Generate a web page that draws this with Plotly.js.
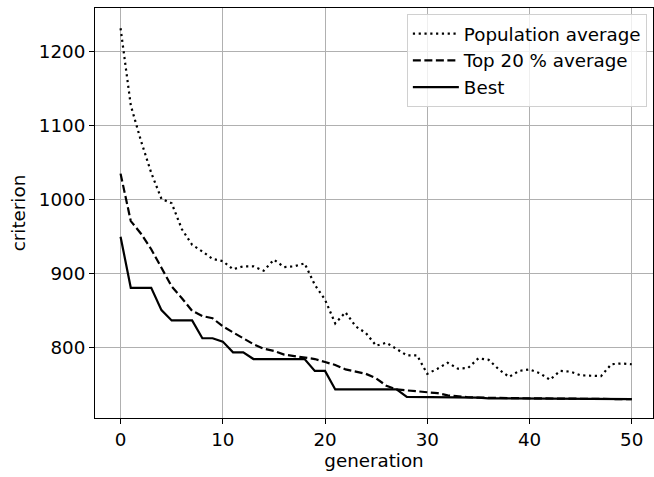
<!DOCTYPE html>
<html>
<head>
<meta charset="utf-8">
<script src="https://cdn.plot.ly/plotly-3.0.1.min.js"></script>
<style>html,body{margin:0;padding:0;background:#fff;}#chart{width:654px;height:477px;}</style>
</head>
<body>
<div id="chart"></div>
<script>
var generations = [];
for (var g = 0; g <= 50; g++) generations.push(g);

var populationAverage = [1231, 1127, 1079, 1036, 1001, 995, 960, 939, 930, 920,
  917, 906, 910, 910, 904, 919, 909, 910, 914, 885,
  865, 833, 848, 829, 820, 803, 807, 798, 790, 790,
  765, 772, 780, 772, 773, 786, 784, 771, 761, 769,
  771, 766, 757, 769, 768, 763, 762, 762, 778, 779, 778];

var top20Average = [1035, 971, 954, 933, 908, 883, 867, 850, 843, 840,
  829, 821, 814, 805, 799, 796, 791, 789, 788, 785,
  781, 777, 771, 768, 765, 759, 749, 744, 743, 742,
  740.5, 739, 736, 734.5, 733.5, 733, 732.5, 732.5, 732.3, 732.2,
  732, 732, 732, 732, 731.8, 731.5, 731.5, 731.3, 731.2, 731, 731];

var best = [950, 881, 881, 881, 851, 837, 837, 837, 813, 813,
  808.5, 794, 794, 785, 785, 785, 785, 785, 785, 769,
  769, 744, 744, 744, 744, 744, 744, 744, 734, 734,
  734, 734, 733, 733, 733, 733, 732, 732, 732, 732,
  732, 732, 732, 732, 732, 731, 731, 731, 731, 731, 731];

var seriesNames = ["Population average", "Top 20 % average", "Best"];
var xTicks = [0, 10, 20, 30, 40, 50];
var yTicks = [800, 900, 1000, 1100, 1200];

var FONT = "DejaVu Sans, sans-serif";
var FS = 18.3;

var traces = [
  {x: generations, y: populationAverage, name: seriesNames[0], mode: "lines", legendgroup: "a",
   line: {color: "#000", width: 2.2, dash: "2.2px,3.6px"}},
  {x: generations, y: top20Average, name: seriesNames[1], mode: "lines", legendgroup: "b",
   line: {color: "#000", width: 2.2, dash: "8px,3.5px"}},
  {x: generations, y: best, name: seriesNames[2], mode: "lines", legendgroup: "c",
   line: {color: "#000", width: 2.2}}
];

var axisCommon = {
  showgrid: true, gridcolor: "#b0b0b0", gridwidth: 1,
  zeroline: false, showline: true, linecolor: "#000", linewidth: 1, mirror: true,
  ticks: "outside", ticklen: 5, tickwidth: 1, tickcolor: "#000",
  tickfont: {family: FONT, size: FS, color: "#000"}
};

var layout = {
  width: 654, height: 477,
  margin: {l: 95, r: 1, t: 7.5, b: 58.5, pad: 0},
  paper_bgcolor: "#fff", plot_bgcolor: "#fff",
  font: {family: FONT, size: FS, color: "#000"},
  showlegend: true,
  xaxis: Object.assign({}, axisCommon, {
    range: [-2.5, 52.08], tickvals: xTicks, ticktext: xTicks.map(String),
    title: {text: "generation", font: {family: FONT, size: FS, color: "#000"}, standoff: 4}
  }),
  yaxis: Object.assign({}, axisCommon, {
    range: [705.5, 1258.3], tickvals: yTicks, ticktext: yTicks.map(String),
    title: {text: "criterion", font: {family: FONT, size: FS, color: "#000"}, standoff: 8}
  }),
  legend: {
    x: 0.989, y: 0.985, xanchor: "right", yanchor: "top",
    bgcolor: "rgba(255,255,255,0.8)", bordercolor: "#d0d0d0", borderwidth: 1,
    font: {family: FONT, size: FS, color: "#000"},
    tracegroupgap: 3, traceorder: "normal", itemwidth: 46
  }
};

Plotly.newPlot("chart", traces, layout, {staticPlot: true, displayModeBar: false});
</script>
</body>
</html>
